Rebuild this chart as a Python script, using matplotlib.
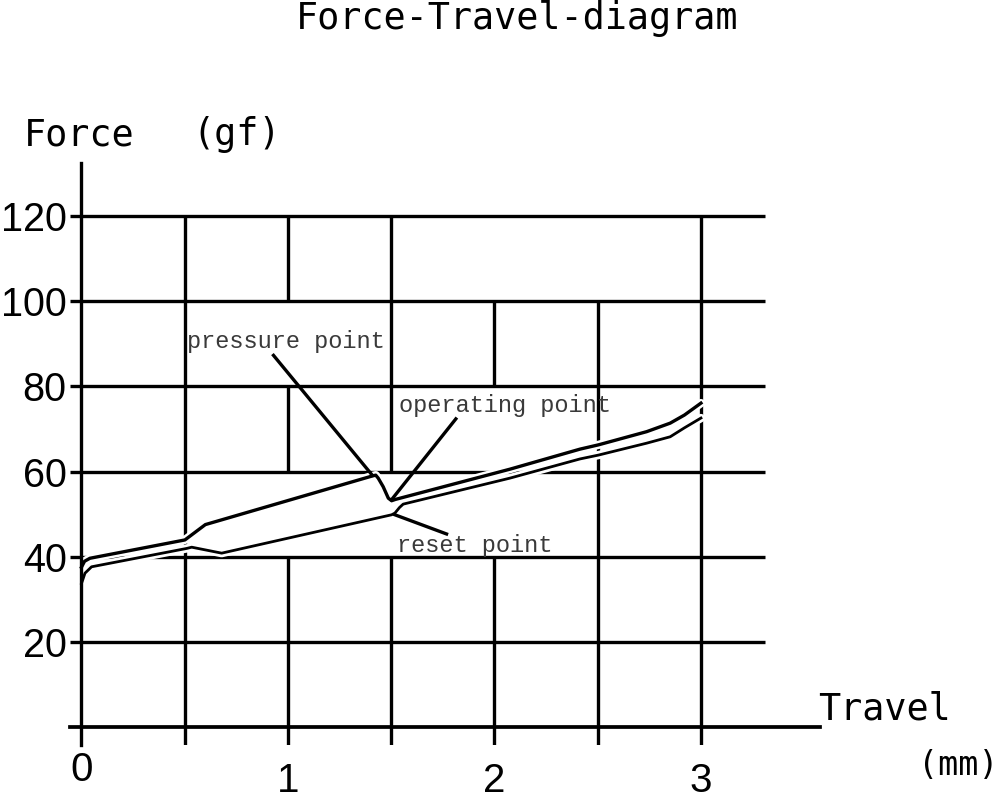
import matplotlib
matplotlib.use("Agg")
import matplotlib.pyplot as plt

# press stroke (upper curve)
travel_press = [0.0, 0.015, 0.041, 0.501, 0.60, 1.408, 1.425, 1.437, 1.461, 1.486,
                1.502, 1.52, 2.075, 2.414, 2.503, 2.737, 2.851, 2.92, 3.0]
force_press = [37.6, 39.0, 39.7, 44.0, 47.6, 59.0, 59.2, 58.5, 56.5, 53.8,
               53.2, 53.5, 60.6, 65.3, 66.3, 69.4, 71.4, 73.3, 76.1]

# release stroke (lower curve)
travel_release = [0.0, 0.006, 0.017, 0.049, 0.509, 0.534, 0.679, 1.502, 1.518, 1.540,
                  1.558, 2.075, 2.414, 2.503, 2.737, 2.851, 2.92, 3.0]
force_release = [33.8, 34.6, 36.2, 37.7, 42.0, 42.3, 40.9, 49.9, 50.3, 51.6,
                 52.4, 58.5, 63.0, 63.9, 66.7, 68.2, 70.3, 72.6]

y_ticks = [20, 40, 60, 80, 100, 120]
x_ticks = [1, 2, 3]

# the grid in the drawing is broken like brickwork
grid_cols = {
    0.5: [(-4, 120)],
    1.0: [(100, 120), (60, 80), (-4, 40)],
    1.5: [(60, 120), (-4, 40)],
    2.0: [(80, 100), (-4, 40)],
    2.5: [(-4, 100)],
    3.0: [(-4, 120)],
}

labels = ["pressure point", "operating point", "reset point"]
label_x = [0.511, 1.537, 1.528]
label_y = [89.0, 74.0, 41.2]
leader_x = [(0.93, 1.408), (1.813, 1.501), (1.518, 1.768)]
leader_y = [(87.3, 59.2), (72.4, 53.4), (49.9, 45.4)]

LW = 2.4

fig = plt.figure(figsize=(10, 7.99), dpi=100)
ax = fig.add_axes([0.0701, 0.06815, 0.7496, 0.72823])
ax.set_xlim(-0.055, 3.575)
ax.set_ylim(-4, 132.5)

# grid
ax.hlines(y_ticks, -0.055, 3.31, colors="black", linewidth=LW, zorder=1)
for x, segs in grid_cols.items():
    for y0, y1 in segs:
        ax.vlines(x, y0, y1, colors="black", linewidth=LW, zorder=1)

# curves: white halo first, then the black strokes
for tx, fy in [(travel_press, force_press), (travel_release, force_release)]:
    ax.plot(tx, fy, color="white", linewidth=6, solid_capstyle="round",
            solid_joinstyle="round", zorder=3)
ax.plot(travel_press, force_press, color="black", linewidth=LW,
        solid_joinstyle="round", zorder=4)
ax.plot(travel_release, force_release, color="black", linewidth=2.0,
        solid_joinstyle="round", zorder=4)

# annotation leaders and labels
for lx, ly in zip(leader_x, leader_y):
    ax.plot(lx, ly, color="black", linewidth=LW, zorder=5)
for s, x, y in zip(labels, label_x, label_y):
    ax.text(x, y, s, family="Liberation Mono", fontsize=17, color="#3a3a3a",
            ha="left", va="baseline", zorder=6)

# axes lines
for side in ["top", "right"]:
    ax.spines[side].set_visible(False)
ax.spines["left"].set_position(("data", 0))
ax.spines["bottom"].set_position(("data", 0))
ax.spines["left"].set_linewidth(LW)
ax.spines["bottom"].set_linewidth(2.7)
ax.spines["left"].set_zorder(7)
ax.spines["bottom"].set_zorder(7)

ax.set_yticks(y_ticks)
ax.set_xticks(x_ticks)
ax.tick_params(axis="y", length=0, pad=10.6)
ax.tick_params(axis="x", length=0, pad=24.5)
for lbl in ax.get_yticklabels():
    lbl.set_fontfamily("Liberation Sans")
    lbl.set_fontsize(28.5)
for lbl in ax.get_xticklabels():
    lbl.set_fontfamily("Liberation Sans")
    lbl.set_fontsize(29)
ax.text(0, -12.55, "0", family="Liberation Sans", fontsize=29,
        ha="center", va="baseline", clip_on=False)

mono = "DejaVu Sans Mono"
fig.text(0.5175, 1 - 29 / 799, "Force-Travel-diagram", family=mono, fontsize=26.5,
         ha="center", va="baseline")
fig.text(0.024, 1 - 145 / 799, "Force", family=mono, fontsize=26.5,
         ha="left", va="baseline")
fig.text(0.192, 1 - 145 / 799, "(gf)", family=mono, fontsize=26.5,
         ha="left", va="baseline")
fig.text(0.818, 1 - 720 / 799, "Travel", family=mono, fontsize=26.5,
         ha="left", va="baseline")
fig.text(0.918, 1 - 775 / 799, "(mm)", family=mono, fontsize=24,
         ha="left", va="baseline")

fig.savefig("out.png", dpi=100)
